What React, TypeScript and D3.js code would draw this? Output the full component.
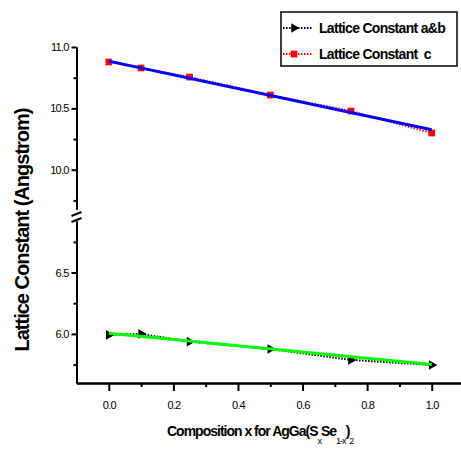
import { useEffect, useRef } from "react";
import * as d3 from "d3";

// composition x and measured lattice constants
const compX = [0, 0.1, 0.25, 0.5, 0.75, 1.0];
const constC = [10.878, 10.829, 10.755, 10.609, 10.478, 10.299];
const constAB = [5.992, 6.0, 5.937, 5.877, 5.788, 5.747];

// linear fit end points
const fitX = [0, 1];
const fitC = [10.885, 10.325];
const fitAB = [6.005, 5.75];

const xTicks = [0, 0.2, 0.4, 0.6, 0.8, 1.0];
const xMinor = [0.1, 0.3, 0.5, 0.7, 0.9];
const yTicksTop = [10.0, 10.5, 11.0];
const yMinorTop = [9.75, 10.25, 10.75];
const yTicksBottom = [6.0, 6.5];
const yMinorBottom = [5.75, 6.25, 6.75];

const legendLabels = ["Lattice Constant a&b", "Lattice Constant  c"];

const App = () => {
  const ref = useRef<SVGSVGElement>(null);

  const width = 461;
  const height = 450;
  const axisX = 76.5;
  const axisY = 383;
  const font = "'Liberation Sans', Arial, sans-serif";

  useEffect(() => {
    const svg = d3.select(ref.current);
    svg.selectAll("*").remove();

    const x = d3.scaleLinear().domain([-0.1, 1.1]).range([axisX, 464]);
    const yTop = d3.scaleLinear().domain([9.68, 11.0]).range([209, 47]);
    const yBot = d3.scaleLinear().domain([5.6, 6.92]).range([axisY, 221]);

    const styleAxis = (g) => {
      g.select(".domain").attr("stroke-width", 2);
      g.selectAll(".tick line").attr("stroke-width", 2);
      g.selectAll(".tick text")
        .attr("font-family", font)
        .attr("font-size", 11)
        .attr("letter-spacing", -0.8)
        .attr("fill", "#000");
    };

    // x axis
    svg
      .append("g")
      .attr("transform", `translate(0,${axisY})`)
      .call(d3.axisBottom(x).tickValues(xMinor).tickSize(4).tickFormat(() => "").tickSizeOuter(0))
      .call(styleAxis);
    svg
      .append("g")
      .attr("transform", `translate(0,${axisY})`)
      .call(
        d3.axisBottom(x).tickValues(xTicks).tickSize(8).tickPadding(10).tickFormat(d3.format(".1f")).tickSizeOuter(0),
      )
      .call(styleAxis);

    // broken y axis
    [
      [yTop, yTicksTop, yMinorTop],
      [yBot, yTicksBottom, yMinorBottom],
    ].forEach(([y, major, minor]: any) => {
      svg
        .append("g")
        .attr("transform", `translate(${axisX},0)`)
        .call(d3.axisLeft(y).tickValues(minor).tickSize(3).tickFormat(() => "").tickSizeOuter(0))
        .call(styleAxis);
      svg
        .append("g")
        .attr("transform", `translate(${axisX},0)`)
        .call(d3.axisLeft(y).tickValues(major).tickSize(5).tickPadding(3).tickFormat(d3.format(".1f")).tickSizeOuter(0))
        .call(styleAxis);
    });

    // break marks
    svg
      .append("g")
      .attr("stroke", "#000")
      .attr("stroke-width", 2)
      .selectAll("line")
      .data([yTop.range()[0] + 5, yBot.range()[1] - 1])
      .join("line")
      .attr("x1", axisX - 5)
      .attr("x2", axisX + 5)
      .attr("y1", (d) => d + 2)
      .attr("y2", (d) => d - 2);

    const lineTop = d3
      .line<number>()
      .x((d, i) => x(compX[i]))
      .y((d) => yTop(d));
    const lineBot = d3
      .line<number>()
      .x((d, i) => x(compX[i]))
      .y((d) => yBot(d));

    // dotted connecting lines
    svg
      .append("path")
      .attr("d", lineTop(constC))
      .attr("fill", "none")
      .attr("stroke", "red")
      .attr("stroke-width", 2)
      .attr("stroke-dasharray", "1.5 1.5");
    svg
      .append("path")
      .attr("d", lineBot(constAB))
      .attr("fill", "none")
      .attr("stroke", "#000")
      .attr("stroke-width", 2)
      .attr("stroke-dasharray", "1.5 1.5");

    // markers
    const square = d3.symbol().type(d3.symbolSquare).size(45);
    const tri = d3.symbol().type(d3.symbolTriangle).size(40);
    svg
      .append("g")
      .selectAll("path")
      .data(constC)
      .join("path")
      .attr("d", square)
      .attr("fill", "red")
      .attr("transform", (d, i) => `translate(${x(compX[i])},${yTop(d)})`);
    svg
      .append("g")
      .selectAll("path")
      .data(constAB)
      .join("path")
      .attr("d", tri)
      .attr("fill", "#000")
      .attr("transform", (d, i) => `translate(${x(compX[i])},${yBot(d)}) rotate(90)`);

    // fit lines
    svg
      .append("line")
      .attr("x1", x(fitX[0]))
      .attr("x2", x(fitX[1]))
      .attr("y1", yTop(fitC[0]))
      .attr("y2", yTop(fitC[1]))
      .attr("stroke", "#0000ff")
      .attr("stroke-width", 3);
    svg
      .append("line")
      .attr("x1", x(fitX[0]))
      .attr("x2", x(fitX[1]))
      .attr("y1", yBot(fitAB[0]))
      .attr("y2", yBot(fitAB[1]))
      .attr("stroke", "#00ff00")
      .attr("stroke-width", 3);

    // legend
    const legend = svg.append("g");
    legend
      .append("rect")
      .attr("x", 281)
      .attr("y", 12)
      .attr("width", 176)
      .attr("height", 54)
      .attr("fill", "#fff")
      .attr("stroke", "#000")
      .attr("stroke-width", 1.5);
    const colors = ["#000", "red"];
    legendLabels.forEach((label, i) => {
      const cy = 28 + i * 26;
      legend
        .append("line")
        .attr("x1", 283)
        .attr("x2", 313)
        .attr("y1", cy)
        .attr("y2", cy)
        .attr("stroke", colors[i])
        .attr("stroke-width", 2)
        .attr("stroke-dasharray", "1.5 1.5");
      legend
        .append("path")
        .attr("d", i === 0 ? tri() : square())
        .attr("fill", colors[i])
        .attr("transform", `translate(294,${cy})` + (i === 0 ? " rotate(90)" : ""));
      legend
        .append("text")
        .attr("x", 319)
        .attr("y", cy + 5)
        .attr("font-family", font)
        .attr("font-weight", "bold")
        .attr("font-size", 14)
        .attr("letter-spacing", -0.7)
        .style("white-space", "pre")
        .text(label);
    });

    // axis titles
    svg
      .append("text")
      .attr("transform", "translate(29,230) rotate(-90)")
      .attr("text-anchor", "middle")
      .attr("font-family", font)
      .attr("font-weight", "bold")
      .attr("font-size", 20)
      .attr("letter-spacing", -1)
      .text("Lattice Constant (Angstrom)");

    const xt = svg
      .append("text")
      .attr("x", 167)
      .attr("y", 436)
      .attr("font-family", font)
      .attr("font-weight", "bold")
      .attr("font-size", 14)
      .attr("letter-spacing", -1);
    xt.append("tspan").text("Composition x for AgGa(S");
    xt.append("tspan").attr("dy", 8).attr("font-size", 9).attr("font-weight", "normal").text("x");
    xt.append("tspan").attr("dy", -8).text("Se");
    xt.append("tspan").attr("dy", 8).attr("font-size", 9).attr("font-weight", "normal").text("1-x");
    xt.append("tspan").attr("dy", -8).text(")");
    xt.append("tspan").attr("dy", 8).attr("font-size", 9).attr("font-weight", "normal").text("2");
  }, []);

  return (
    <svg
      ref={ref}
      width={width}
      height={height}
      style={{ position: "absolute", left: 0, top: 0, background: "#fff" }}
    ></svg>
  );
};

export default App;
